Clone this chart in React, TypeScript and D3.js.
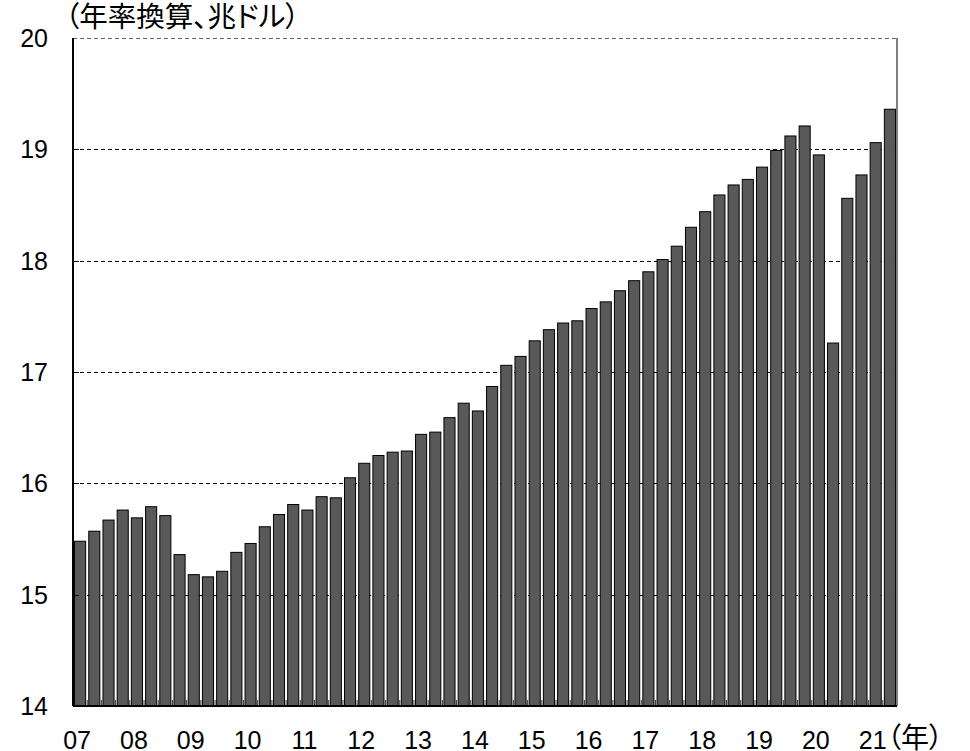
import React from 'react'
import * as d3 from 'd3'

// US nominal GDP, quarterly, annualized (trillion USD)
const years = ['07', '08', '09', '10', '11', '12', '13', '14', '15', '16', '17', '18', '19', '20', '21']
const quarters = ['Q1', 'Q2', 'Q3', 'Q4']
const gdp = [
  15.48, 15.57, 15.67, 15.76,
  15.69, 15.79, 15.71, 15.36,
  15.18, 15.16, 15.21, 15.38,
  15.46, 15.61, 15.72, 15.81,
  15.76, 15.88, 15.87, 16.05,
  16.18, 16.25, 16.28, 16.29,
  16.44, 16.46, 16.59, 16.72,
  16.65, 16.87, 17.06, 17.14,
  17.28, 17.38, 17.44, 17.46,
  17.57, 17.63, 17.73, 17.82,
  17.90, 18.01, 18.13, 18.30,
  18.44, 18.59, 18.68, 18.73,
  18.84, 18.99, 19.12, 19.21,
  18.95, 17.26, 18.56, 18.77,
  19.06, 19.36
]
const yTicks = [14, 15, 16, 17, 18, 19, 20]
const unitLabel = '（年率換算、兆ドル）'
const yearLabel = '（年）'

const W = 970
const H = 751
const left = 73
const right = 897
const top = 38
const bottom = 706

const latin = '"Liberation Sans", Arial, sans-serif'
const cjk = '"Noto Sans CJK JP", "Noto Sans CJK SC", sans-serif'

const App = () => {
  const keys = gdp.map((_, i) => years[Math.floor(i / 4)] + quarters[i % 4])
  const x = d3.scaleBand<string>().domain(keys).range([left, right]).paddingInner(0.22).paddingOuter(0.11)
  const y = d3.scaleLinear().domain([14, 20]).range([bottom, top])
  const step = x.step()
  const snap = (v: number) => Math.round(v) + 0.5

  return (
    <svg width={W} height={H} style={{ position: 'absolute', left: 0, top: 0, background: '#fff' }}>
      {/* grid */}
      {yTicks.filter(t => t > 14).map(t => (
        <line key={'g' + t} x1={left} x2={right} y1={snap(y(t))} y2={snap(y(t))}
          stroke={t === 20 ? '#666' : '#000'} strokeWidth={1} strokeDasharray='4,3' />
      ))}

      {/* bars */}
      {gdp.map((v, i) => (
        <rect key={keys[i]} x={x(keys[i])} y={y(v)} width={x.bandwidth()} height={bottom - y(v)}
          fill='#595959' stroke='#000' strokeWidth={1} />
      ))}

      {/* inner ticks */}
      {d3.range(1, gdp.length).map(i => (
        <line key={'xt' + i} x1={left + i * step} x2={left + i * step} y1={bottom} y2={bottom - 6}
          stroke='#333' strokeWidth={1} />
      ))}
      {yTicks.filter(t => t > 14 && t < 20).map(t => (
        <line key={'yt' + t} x1={left} x2={left + 6} y1={snap(y(t))} y2={snap(y(t))}
          stroke='#000' strokeWidth={1} />
      ))}

      {/* frame */}
      <line x1={left} x2={left} y1={top} y2={bottom} stroke='#000' strokeWidth={2} />
      <line x1={left} x2={right} y1={bottom} y2={bottom} stroke='#000' strokeWidth={2} />
      <line x1={right} x2={right} y1={top} y2={bottom} stroke='#000' strokeWidth={1} />

      {/* y labels */}
      {yTicks.map(t => (
        <text key={'yl' + t} x={48} y={y(t) + 9} textAnchor='end' fontFamily={latin} fontSize={25} fill='#000'>{t}</text>
      ))}

      {/* x labels: under the Q1 bar of each year */}
      {years.map(yr => (
        <text key={'xl' + yr} x={(x(yr + 'Q1') as number) + x.bandwidth() / 2 - 3}
          y={748.5} textAnchor='middle' fontFamily={latin} fontSize={25} fill='#000'>{yr}</text>
      ))}

      <text x={65} y={26.5} fontFamily={cjk} fontSize={28.5} fill='#000' style={{ fontFeatureSettings: '"palt"' }}>{unitLabel}</text>
      <text x={887} y={748} fontFamily={cjk} fontSize={28} fill='#000' style={{ fontFeatureSettings: '"palt"' }}>{yearLabel}</text>
    </svg>
  )
}

export default App
